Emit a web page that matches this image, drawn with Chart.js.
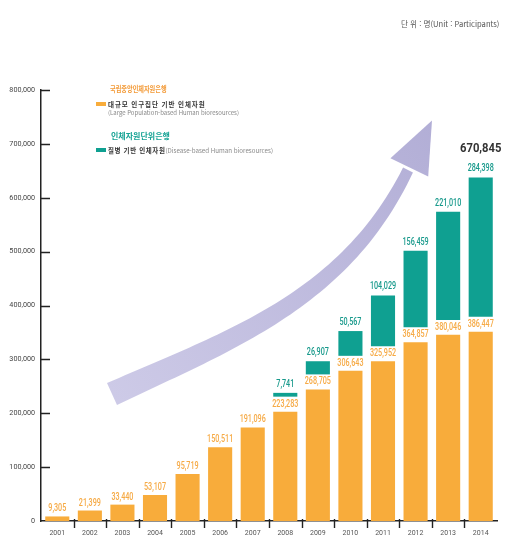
<!DOCTYPE html>
<html lang="ko">
<head>
<meta charset="utf-8">
<title>인체자원 보유 현황</title>
<script src="https://cdn.jsdelivr.net/npm/chart.js@4.4.1/dist/chart.umd.min.js"></script>
<style>
  html, body { margin: 0; padding: 0; background: #fff; }
  #wrap { position: relative; width: 506px; height: 543px; overflow: hidden; }
  #chart { position: absolute; left: 0; top: 0; }
  .txt { position: absolute; white-space: nowrap; line-height: 1; font-family: "Noto Sans CJK KR", "Noto Sans", sans-serif; }
  .sw { position: absolute; width: 10px; height: 4px; }
</style>
</head>
<body>
<div id="wrap">
  <canvas id="chart" width="506" height="543"></canvas>

  <div class="txt" style="left:401px;top:19.5px;font-size:7.6px;color:#555;">단 위 : 명(Unit : Participants)</div>

  <div class="txt" style="left:110px;top:85px;font-size:7.5px;font-weight:700;color:#f39a37;transform:scaleX(0.82);transform-origin:0 0;">국립중앙인체자원은행</div>
  <div class="sw" style="left:96px;top:102px;background:#f8ac3b;"></div>
  <div class="txt" style="left:108px;top:101px;font-size:6.5px;font-weight:700;color:#333;letter-spacing:0.9px;">대규모 인구집단 기반 인체자원</div>
  <div class="txt" style="left:108px;top:110px;font-size:6px;color:#888;">(Large Population-based Human bioresources)</div>

  <div class="txt" style="left:111px;top:132px;font-size:8px;font-weight:700;color:#17a395;">인체자원단위은행</div>
  <div class="sw" style="left:96px;top:148px;background:#0fa091;"></div>
  <div class="txt" style="left:108px;top:146.5px;font-size:6.5px;color:#333;"><b style="letter-spacing:0.6px;">질병 기반 인체자원</b><span style="font-size:6.2px;color:#888;">(Disease-based Human bioresources)</span></div>
</div>

<script>
// 연도별 인체자원 보유 현황 (단위: 명)
const YEARS = ['2001', '2002', '2003', '2004', '2005', '2006', '2007',
               '2008', '2009', '2010', '2011', '2012', '2013', '2014'];
const LARGE_POP = [9305, 21399, 33440, 53107, 95719, 150511, 191096,
                   223283, 268705, 306643, 325952, 364857, 380046, 386447];
const DISEASE = [null, null, null, null, null, null, null,
                 7741, 26907, 50567, 104029, 156459, 221010, 284398];
const Y_TICKS = [0, 100000, 200000, 300000, 400000, 500000, 600000, 700000, 800000];

// 스타일
const ORANGE = '#f8ac3b';
const TEAL = '#0fa091';
const ORANGE_TEXT = '#f6aa45';
const TEAL_TEXT = '#17998b';
const NUM_FONT = "Roboto, 'DejaVu Sans', sans-serif";
const BAR_MAX = 880000;  // bars in the original are drawn a bit shorter than the printed axis
const GAP = 30600;       // white gap between the two segments, room for the orange value

const fmt = v => v.toLocaleString('en-US');

// 가로로 좁힌 글자 (원본의 condensed 숫자체 흉내)
function narrowText(ctx, text, x, y, sx) {
    ctx.save();
    ctx.translate(x, y);
    ctx.scale(sx, 1);
    ctx.fillText(text, 0, 0);
    ctx.restore();
}

// 큰 보라색 화살표 (장식)
const ARROW = { p0: [112, 394], p1: [230, 340], p2: [345, 300], p3: [408, 170],
                tail: 24, neck: 11, headHalf: 21, headLen: 52 };

function bez(t, a, b, c, d) {
    const u = 1 - t;
    return u * u * u * a + 3 * u * u * t * b + 3 * u * t * t * c + t * t * t * d;
}
function bezD(t, a, b, c, d) {
    const u = 1 - t;
    return 3 * u * u * (b - a) + 6 * u * t * (c - b) + 3 * t * t * (d - c);
}

const arrowPlugin = {
    id: 'arrow',
    beforeDatasetsDraw(chart) {
        const ctx = chart.ctx;
        const { p0, p1, p2, p3 } = ARROW;
        const left = [], right = [];
        const steps = 60;
        for (let i = 0; i <= steps; i++) {
            const t = i / steps;
            const x = bez(t, p0[0], p1[0], p2[0], p3[0]);
            const y = bez(t, p0[1], p1[1], p2[1], p3[1]);
            let dx = bezD(t, p0[0], p1[0], p2[0], p3[0]);
            let dy = bezD(t, p0[1], p1[1], p2[1], p3[1]);
            const len = Math.hypot(dx, dy);
            dx /= len; dy /= len;
            const w = (ARROW.tail + (ARROW.neck - ARROW.tail) * t) / 2;
            left.push([x - dy * w, y + dx * w]);
            right.push([x + dy * w, y - dx * w]);
        }
        let dx = p3[0] - p2[0], dy = p3[1] - p2[1];
        const len = Math.hypot(dx, dy);
        dx /= len; dy /= len;
        const base = [p3[0] + dx * 3, p3[1] + dy * 3];

        const grad = ctx.createLinearGradient(p0[0], p0[1], base[0] + dx * ARROW.headLen, base[1] + dy * ARROW.headLen);
        grad.addColorStop(0, '#cdcae7');
        grad.addColorStop(1, '#b2aed6');

        ctx.save();
        ctx.fillStyle = grad;
        ctx.beginPath();
        left.forEach((p, i) => i ? ctx.lineTo(p[0], p[1]) : ctx.moveTo(p[0], p[1]));
        right.reverse().forEach(p => ctx.lineTo(p[0], p[1]));
        ctx.closePath();
        ctx.fill();

        ctx.beginPath();
        ctx.moveTo(base[0] - dy * ARROW.headHalf, base[1] + dx * ARROW.headHalf);
        ctx.lineTo(base[0] + dx * ARROW.headLen, base[1] + dy * ARROW.headLen);
        ctx.lineTo(base[0] + dy * ARROW.headHalf, base[1] - dx * ARROW.headHalf);
        ctx.closePath();
        ctx.fill();
        ctx.restore();
    }
};

// 축 눈금 표시 (y축은 안쪽, x축은 항목 사이)
const axisMarks = {
    id: 'axisMarks',
    afterDraw(chart) {
        const { ctx, chartArea, scales } = chart;
        ctx.save();
        ctx.strokeStyle = '#222';
        ctx.lineWidth = 1.4;
        ctx.beginPath();
        Y_TICKS.forEach(v => {
            if (v === 0) return;
            const y = Math.round(scales.y.getPixelForValue(v)) + 0.5;
            ctx.moveTo(chartArea.left, y);
            ctx.lineTo(chartArea.left + 9, y);
        });
        for (let i = 1; i < YEARS.length; i++) {
            const x = Math.round((scales.x.getPixelForValue(i - 1) + scales.x.getPixelForValue(i)) / 2) + 0.5;
            ctx.moveTo(x, chartArea.bottom - 2);
            ctx.lineTo(x, chartArea.bottom + 7);
        }
        ctx.stroke();
        ctx.restore();
    }
};

// 막대 위 수치
const valueLabels = {
    id: 'valueLabels',
    afterDatasetsDraw(chart) {
        const ctx = chart.ctx;
        ctx.save();
        ctx.textAlign = 'center';
        ctx.textBaseline = 'middle';
        ctx.font = '500 10px ' + NUM_FONT;

        ctx.fillStyle = ORANGE_TEXT;
        chart.getDatasetMeta(0).data.forEach((bar, i) => {
            narrowText(ctx, fmt(LARGE_POP[i]), bar.x, bar.y - 7.5, 0.72);
        });

        ctx.fillStyle = TEAL_TEXT;
        let lastTop = null;
        chart.getDatasetMeta(1).data.forEach((bar, i) => {
            if (DISEASE[i] == null) return;
            narrowText(ctx, fmt(DISEASE[i]), bar.x, bar.y - 8.5, 0.72);
            lastTop = bar;
        });

        // 2014년 합계
        const last = YEARS.length - 1;
        if (lastTop) {
            ctx.fillStyle = '#333';
            ctx.font = 'bold 12.5px ' + NUM_FONT;
            narrowText(ctx, fmt(LARGE_POP[last] + DISEASE[last]), lastTop.x, lastTop.y - 29, 0.9);
        }
        ctx.restore();
    }
};

const diseaseBars = DISEASE.map((v, i) => v == null ? null : [LARGE_POP[i] + GAP, LARGE_POP[i] + GAP + v]);

const barCommon = {
    yAxisID: 'yBar',
    grouped: false,
    barPercentage: 0.74,
    categoryPercentage: 1,
    borderWidth: 0
};

new Chart(document.getElementById('chart'), {
    type: 'bar',
    data: {
        labels: YEARS,
        datasets: [
            Object.assign({ label: '대규모 인구집단 기반 인체자원', data: LARGE_POP, backgroundColor: ORANGE }, barCommon),
            Object.assign({ label: '질병 기반 인체자원', data: diseaseBars, backgroundColor: TEAL }, barCommon)
        ]
    },
    options: {
        responsive: false,
        animation: false,
        layout: { padding: { top: 90, right: 9, left: 0, bottom: 0 } },
        plugins: {
            legend: { display: false },
            tooltip: { enabled: false }
        },
        scales: {
            x: {
                grid: { display: false, drawTicks: false },
                border: { color: '#222', width: 1.5 },
                ticks: { color: '#555', padding: 8, font: { family: NUM_FONT, size: 7 } },
                afterFit: s => { s.height = 22; }
            },
            y: {
                position: 'left',
                min: 0,
                max: 800000,
                grid: { display: false, drawTicks: false },
                border: { color: '#222', width: 1.5 },
                ticks: { color: '#444', padding: 6, font: { family: NUM_FONT, size: 7.2 }, callback: v => fmt(v) },
                afterBuildTicks: s => { s.ticks = Y_TICKS.map(v => ({ value: v })); },
                afterFit: s => { s.width = 41; }
            },
            yBar: {
                display: false,
                min: 0,
                max: BAR_MAX
            }
        }
    },
    plugins: [arrowPlugin, axisMarks, valueLabels]
});
</script>
</body>
</html>
